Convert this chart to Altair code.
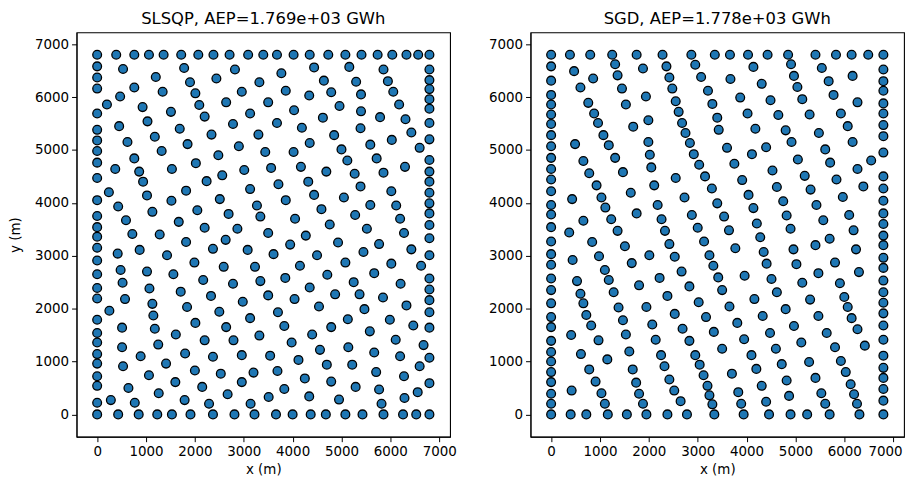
import altair as alt
import pandas as pd

TITLE_L = "SLSQP, AEP=1.769e+03 GWh"
TITLE_R = "SGD, AEP=1.778e+03 GWh"
TICKS = [0, 1000, 2000, 3000, 4000, 5000, 6000, 7000]
EDGE_MIN = 0
EDGE_MAX = 6800
DOMAIN = [-422, 7222]

# ---------- SLSQP (left) ----------
slsqp_top_x = [0, 390, 760, 1060, 1360, 1720, 2070, 2380, 2710, 3090, 3400, 3680, 4020,
               4350, 4730, 5080, 5410, 5740, 6040, 6330, 6570, 6800]
slsqp_left_y = [6580, 6370, 6160, 5690, 5380, 5180, 4980, 4760, 4470, 4050, 3750, 3540,
                3360, 3150, 2910, 2650, 2390, 2190, 1790, 1540, 1360, 1140, 960, 720, 540, 220]
slsqp_bottom_x = [0, 430, 850, 1230, 1530, 1910, 2370, 2810, 3220, 3660, 4000, 4370, 4680,
                  5080, 5430, 5860, 6260, 6530, 6800]
slsqp_right_y = [6520, 6320, 6150, 5960, 5780, 5510, 5200, 4810, 4590, 4400, 4190, 3990,
                 3800, 3580, 3330, 3010, 2570, 2360, 2160, 1930, 1640, 1070, 590]
slsqp_inner_nw = [(530,6530),(1780,6550),(2820,6520),(1200,6380),(2440,6350),(3320,6280),(760,6180),
    (1900,6280),(1340,6100),(2960,6100),(470,6010),(2010,6070),(200,5860),(930,5810),(2090,5850),
    (2640,5900),(1510,5720),(2200,5630),(3130,5690),(1030,5540),(450,5450),(2780,5490),(1690,5400),
    (2340,5290),(3300,5290),(1180,5250),(620,5150),(1850,5110),(2900,5070),(1320,4980),(760,4840),
    (2480,4900),(2020,4750),(370,4640),(1530,4640),(3010,4620),(860,4590),(2560,4520),(940,4400),
    (2240,4410),(240,4200),(1820,4230),(3130,4260),(1020,4140),(1520,4040),(2510,4070),(430,3930),
    (3270,3950),(2050,3860),(1130,3830),(2690,3790),(3340,3740),(590,3670),(1670,3640),(2200,3530),
    (2870,3510)]
slsqp_inner_ne = [(3770,6450),(4440,6560),(5160,6570),(5860,6520),(4640,6310),(5300,6290),(5950,6300),
    (3860,6120),(4340,6030),(4790,6090),(5400,6050),(6060,6100),(3500,5900),(4030,5750),(4960,5830),
    (5400,5730),(6180,5860),(4620,5610),(5790,5620),(6310,5580),(3680,5510),(4190,5420),(4850,5280),
    (5390,5410),(6430,5330),(4350,5130),(6030,5190),(5590,5100),(6600,5040),(3440,4960),(4020,4960),
    (5000,5010),(5120,4800),(5720,4840),(3560,4660),(4170,4680),(4690,4590),(5270,4550),(5860,4570),
    (6300,4680),(3710,4350),(4320,4400),(5390,4310),(6020,4220),(3860,4050),(4440,4150),(5050,4100),
    (5590,3960),(6120,3950),(4590,3880),(5280,3770),(6200,3700),(4050,3700),(4760,3590),(5520,3510),
    (3500,3430),(6280,3430)]
slsqp_inner_sw = [(720,3410),(1280,3400),(1820,3260),(2630,3300),(420,3040),(870,3110),(1430,3010),
    (2370,3130),(3080,3110),(1990,2870),(2590,2790),(3230,2790),(480,2730),(1020,2700),(1560,2650),
    (2170,2540),(2780,2470),(3340,2520),(520,2490),(1070,2380),(1710,2320),(2330,2240),(2980,2130),
    (570,2180),(1130,2090),(250,1960),(1840,2030),(2500,1940),(1150,1870),(3130,1820),(2010,1730),
    (2640,1650),(510,1640),(1180,1620),(1610,1510),(3320,1490),(2200,1400),(2790,1400),(510,1270),
    (1250,1320),(1800,1150),(2370,1090),(2960,1120),(890,1100),(1410,960),(530,910),(2000,830),
    (2530,770),(3200,790),(1060,740),(1600,610),(2150,520),(2960,610),(640,500),(1260,400),(2670,380),
    (280,270),(770,220),(1790,270),(2290,200),(3140,200)]
slsqp_inner_se = [(4270,3380),(4930,3250),(5770,3220),(3950,3210),(3610,3030),(4500,3010),(5450,3070),
    (6430,3120),(4150,2810),(5080,2870),(6020,2850),(6630,2810),(3850,2580),(4710,2640),(5670,2670),
    (5250,2500),(6210,2470),(4350,2400),(3500,2250),(4040,2180),(4870,2270),(5370,2270),(5850,2210),
    (4540,2040),(5470,1990),(6330,2060),(3700,1930),(5130,1800),(5990,1790),(3830,1670),(4790,1650),
    (6470,1680),(4400,1510),(5580,1570),(6110,1410),(3980,1360),(4560,1220),(5140,1270),(6680,1310),
    (5670,1170),(3540,1110),(4120,1030),(4700,940),(5220,940),(6200,1100),(6600,910),(3690,820),
    (4250,680),(4790,620),(5710,800),(6280,720),(3830,480),(5290,520),(5770,470),(6560,420),(3510,330),
    (4340,340),(4950,280),(5820,200),(6290,310)]

# ---------- SGD (right) ----------
sgd_top_x = [0, 385, 800, 1250, 1750, 2280, 2870, 3350, 3660, 4030, 4430, 4850, 5410, 5830,
             6150, 6490, 6800]
sgd_left_y = [6580, 6310, 6040, 5860, 5670, 5490, 5280, 5070, 4850, 4640, 4440, 4220, 3960,
              3780, 3540, 3270, 3030, 2830, 2570, 2350, 2100, 1840, 1650, 1390, 1180, 1000, 800,
              610, 390, 200]
sgd_bottom_x = [0, 400, 720, 1160, 1550, 1950, 2380, 2780, 3340, 3940, 4460, 4900, 5240, 5700,
                6310, 6800]
sgd_right_y = [6520, 6300, 6120, 5880, 5690, 5470, 5260, 4950, 4500, 4270, 4040, 3800, 3600,
               3380, 3200, 2960, 2770, 2530, 2310, 2110, 1910, 1680, 1410, 1110, 880, 690, 480, 260]
sgd_inner_nw = [(470,6490),(860,6350),(600,6180),(1310,6620),(1360,6410),(1450,6160),(1880,6540),
    (2360,6580),(2420,6370),(2480,6160),(2950,6610),(3070,6380),(3210,6120),(760,5890),(1530,5860),
    (1940,6010),(2550,5920),(3300,5870),(880,5690),(960,5510),(1680,5440),(1990,5560),(2610,5720),
    (2680,5510),(1070,5280),(1180,5090),(2750,5320),(2840,5130),(490,5110),(1990,5150),(660,4790),
    (1310,4850),(2020,4910),(2920,4920),(780,4560),(1470,4580),(2050,4670),(3030,4720),(2550,4470),
    (3150,4500),(930,4330),(2110,4330),(1630,4190),(3290,4270),(430,4070),(1030,4100),(2730,4100),
    (1110,3910),(2180,3960),(1750,3800),(2880,3770),(660,3660),(1230,3690),(2260,3690),(3000,3530),
    (370,3440),(1360,3470),(2330,3470)]
sgd_inner_ne = [(4140,6570),(4910,6620),(5540,6550),(3670,6340),(4310,6250),(4970,6400),(5680,6300),
    (6170,6400),(5040,6190),(5780,6040),(3870,5990),(4490,5940),(5140,5960),(6270,5900),(4020,5690),
    (4650,5660),(5290,5670),(5930,5690),(3400,5610),(3430,5380),(4180,5400),(4800,5370),(5480,5320),
    (6070,5450),(6170,5150),(3600,5040),(4110,4920),(4400,5050),(4920,5150),(5610,5010),(3750,4740),
    (5050,4820),(5710,4760),(6550,4800),(4530,4610),(6270,4640),(3910,4430),(5190,4510),(5840,4440),
    (6390,4310),(4620,4300),(5310,4250),(4040,4150),(3400,3990),(4750,4030),(5970,4110),(5430,3960),
    (4140,3900),(3540,3740),(4820,3760),(6100,3770),(4210,3610),(5570,3670),(3640,3480),(4900,3510),
    (6190,3480)]
sgd_inner_sw = [(840,3260),(1510,3180),(2420,3220),(3130,3270),(440,2920),(980,2990),(1650,2860),
    (2010,3010),(2530,2980),(3240,3010),(3320,2810),(1100,2730),(1180,2540),(2670,2700),(2220,2580),
    (530,2520),(600,2280),(1280,2310),(1800,2440),(2380,2240),(2830,2420),(660,2100),(1380,2020),
    (1950,2030),(3020,2120),(720,1880),(1470,1780),(2530,1900),(3170,1840),(820,1680),(1530,1510),
    (2070,1700),(2690,1620),(3330,1560),(410,1500),(970,1400),(2140,1410),(2830,1390),(1600,1190),
    (2250,1120),(2950,1120),(610,1140),(1150,1040),(1670,850),(2320,910),(3040,940),(780,850),
    (3120,740),(910,620),(1740,600),(2420,660),(3200,540),(420,450),(1030,400),(1800,390),(2520,450),
    (3240,360),(1100,200),(1880,200),(2650,250),(3300,190)]
sgd_inner_se = [(4280,3350),(5700,3320),(3770,3140),(4350,3070),(4960,3120),(5410,3200),(6240,3120),
    (4410,2850),(5020,2840),(5810,2870),(3420,2590),(3960,2620),(4510,2560),(5140,2490),(5470,2670),
    (6300,2690),(5910,2480),(3500,2350),(4620,2310),(4160,2180),(5300,2170),(6000,2220),(6070,2030),
    (3650,2040),(4800,1990),(4330,1860),(5470,1860),(6150,1820),(3810,1730),(4970,1670),(6270,1610),
    (4480,1540),(5640,1540),(3950,1420),(5120,1360),(6420,1300),(3500,1240),(4600,1240),(5810,1270),
    (4100,1120),(5930,1010),(5280,990),(4720,950),(4200,860),(6030,800),(3700,770),(5410,690),
    (4820,640),(4310,540),(6130,570),(3830,420),(4870,350),(5530,400),(6200,380),(3890,200),(4400,240),
    (5610,200),(6260,200)]


def build(top_x, left_y, bottom_x, right_y, inner):
    xs = list(top_x) + [EDGE_MIN] * len(left_y) + list(bottom_x) + [EDGE_MAX] * len(right_y)
    ys = [EDGE_MAX] * len(top_x) + list(left_y) + [EDGE_MIN] * len(bottom_x) + list(right_y)
    xs += [p[0] for p in inner]
    ys += [p[1] for p in inner]
    return pd.DataFrame({"x": xs, "y": ys})


df_l = build(slsqp_top_x, slsqp_left_y, slsqp_bottom_x, slsqp_right_y,
             slsqp_inner_nw + slsqp_inner_ne + slsqp_inner_sw + slsqp_inner_se)
df_r = build(sgd_top_x, sgd_left_y, sgd_bottom_x, sgd_right_y,
             sgd_inner_nw + sgd_inner_ne + sgd_inner_sw + sgd_inner_se)

FONT = "DejaVu Sans"


def axis(title_pad, flush=0):
    kw = {"labelFlush": flush, "labelFlushOffset": 9} if flush else {}
    return alt.Axis(values=TICKS, format="d", grid=False, domainColor="black",
                    tickColor="black", tickSize=5, tickWidth=1, labelOverlap=False,
                    labelFont=FONT, labelFontSize=13.5, labelColor="black", labelPadding=3,
                    titleFont=FONT, titleFontSize=13.5, titleFontWeight="normal",
                    titleColor="black", titlePadding=title_pad, **kw)


def panel(df, title, ytitle, flush):
    ykw = {"title": ytitle} if ytitle else {"title": None}
    return alt.Chart(df).mark_circle(
        color="#1f77b4", opacity=1, size=78, stroke="black", strokeWidth=1.3
    ).encode(
        x=alt.X("x:Q", title="x (m)",
                scale=alt.Scale(domain=DOMAIN, nice=False, zero=False),
                axis=axis(5, flush)),
        y=alt.Y("y:Q",
                scale=alt.Scale(domain=DOMAIN, nice=False, zero=False),
                axis=axis(12), **ykw),
    ).properties(
        width=376, height=407,
        title=alt.TitleParams(title, fontSize=16.5, font=FONT, fontWeight="normal",
                              color="black", offset=5),
    )


chart = alt.hconcat(
    panel(df_l, TITLE_L, "y (m)", 0),
    panel(df_r, TITLE_R, None, 15),
    spacing=31,
).properties(
    background="white", padding=0
).configure_view(
    stroke="black", strokeWidth=1.1
)

chart.save("out.html", embed_options={"renderer": "svg", "actions": False})
